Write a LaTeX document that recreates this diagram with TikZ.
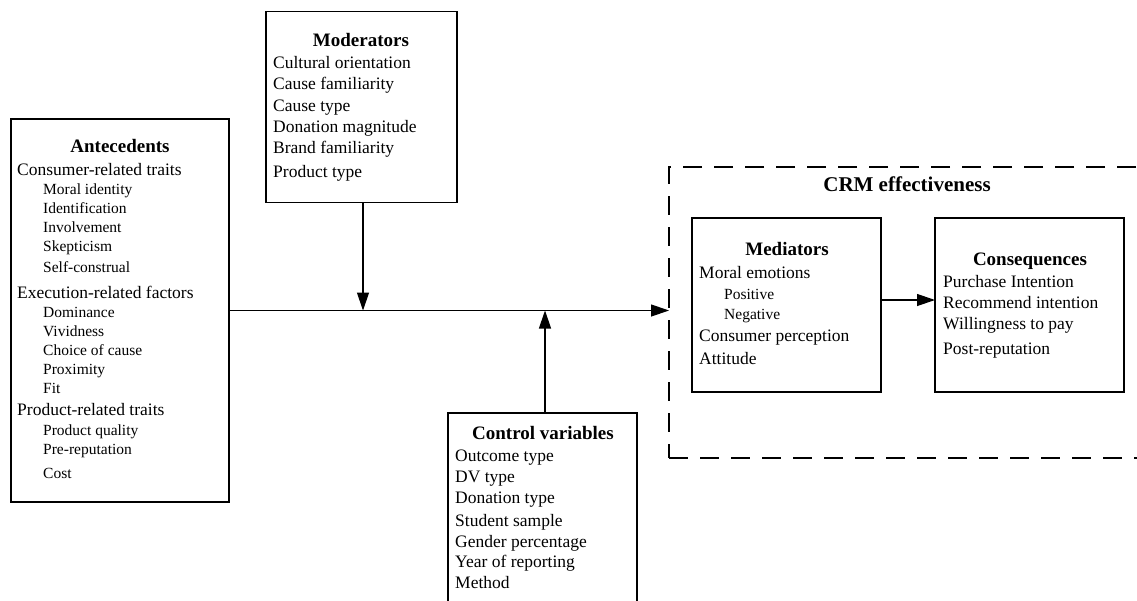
\documentclass[tikz,border=0pt]{standalone}
\usepackage{fontspec}
\setmainfont{Liberation Serif}
\usetikzlibrary{arrows.meta}
\tikzset{
  box/.style={draw, line width=1.2pt, inner sep=0pt, outer sep=0pt},
  frame/.style={draw, line width=1.2pt, dash pattern=on 19pt off 12pt, inner sep=0pt, outer sep=0pt},
  itm/.style={anchor=base west, inner sep=0pt, font=\fontsize{17.5}{19}\selectfont},
  subitm/.style={anchor=base west, inner sep=0pt, font=\fontsize{15.5}{17}\selectfont},
  hd/.style={anchor=base, inner sep=0pt, font=\fontsize{19}{21}\selectfont\bfseries},
  bighd/.style={anchor=base, inner sep=0pt, font=\fontsize{21}{23}\selectfont\bfseries},
  arr/.style={-{Triangle[length=18pt,width=12pt]}, line width=1.2pt}
}
\begin{document}
\begin{tikzpicture}[x=1pt,y=-1pt]
\useasboundingbox (0,0) rectangle (1137,600);
\clip (0,0) rectangle (1137,600);
\fill[white] (0,0) rectangle (1137,600);

% boxes
\node[box, minimum width=218pt, minimum height=383pt] (ant) at (120,310.5) {};
\node[box, minimum width=191pt, minimum height=191.5pt] (mod) at (361.5,107) {};
\node[box, minimum width=189pt, minimum height=207pt] (ctrl) at (542.5,516.5) {};
\node[frame, minimum width=491pt, minimum height=291pt] (crm) at (914.5,312.5) {};
\node[box, minimum width=189pt, minimum height=174pt] (med) at (786.5,305) {};
\node[box, minimum width=189pt, minimum height=174pt] (con) at (1029.5,305) {};

% Antecedents
\node[hd] (antH) at (120,152.5) {Antecedents};
\node[itm] (a1) at (17,175) {Consumer-related traits};
\node[subitm] (a2) at (43,194) {Moral identity};
\node[subitm] (a3) at (43,213) {Identification};
\node[subitm] (a4) at (43,232) {Involvement};
\node[subitm] (a5) at (43,251) {Skepticism};
\node[subitm] (a6) at (43,272) {Self-construal};
\node[itm] (a7) at (17,298) {Execution-related factors};
\node[subitm] (a8) at (43,317) {Dominance};
\node[subitm] (a9) at (43,336) {Vividness};
\node[subitm] (a10) at (43,355) {Choice of cause};
\node[subitm] (a11) at (43,374) {Proximity};
\node[subitm] (a12) at (43,393) {Fit};
\node[itm] (a13) at (17,415) {Product-related traits};
\node[subitm] (a14) at (43,435) {Product quality};
\node[subitm] (a15) at (43,454) {Pre-reputation};
\node[subitm] (a16) at (43,478) {Cost};

% Moderators
\node[hd] (modH) at (361,46.5) {Moderators};
\node[itm] (m1) at (273,68) {Cultural orientation};
\node[itm] (m2) at (273,89) {Cause familiarity};
\node[itm] (m3) at (273,111) {Cause type};
\node[itm] (m4) at (273,132) {Donation magnitude};
\node[itm] (m5) at (273,153) {Brand familiarity};
\node[itm] (m6) at (273,177) {Product type};

% Control variables
\node[hd] (ctrlH) at (543,439.5) {Control variables};
\node[itm] (c1) at (455,461) {Outcome type};
\node[itm] (c2) at (455,482) {DV type};
\node[itm] (c3) at (455,503) {Donation type};
\node[itm] (c4) at (455,526) {Student sample};
\node[itm] (c5) at (455,547) {Gender percentage};
\node[itm] (c6) at (455,567) {Year of reporting};
\node[itm] (c7) at (455,588) {Method};

% CRM effectiveness
\node[bighd] (crmH) at (907,191) {CRM effectiveness};

% Mediators
\node[hd] (medH) at (787,255.5) {Mediators};
\node[itm] (d1) at (699,278) {Moral emotions};
\node[subitm] (d2) at (724,299) {Positive};
\node[subitm] (d3) at (724,319) {Negative};
\node[itm] (d4) at (699,341) {Consumer perception};
\node[itm] (d5) at (699,364) {Attitude};

% Consequences
\node[hd] (conH) at (1030,265.5) {Consequences};
\node[itm] (q1) at (943,287) {Purchase Intention};
\node[itm] (q2) at (943,308) {Recommend intention};
\node[itm] (q3) at (943,329) {Willingness to pay};
\node[itm] (q4) at (943,354) {Post-reputation};

% connectors
\draw[arr] (ant.east) -- (ant.east -| crm.west);
\draw[arr] ([xshift=1.5pt]mod.south) -- ([xshift=1.5pt]mod.south |- ant.east);
\draw[arr] ([xshift=2.5pt]ctrl.north) -- ([xshift=2.5pt]ctrl.north |- ant.east);
\draw[arr] ([yshift=5pt]med.east) -- ([yshift=5pt]con.west);
\end{tikzpicture}
\end{document}
